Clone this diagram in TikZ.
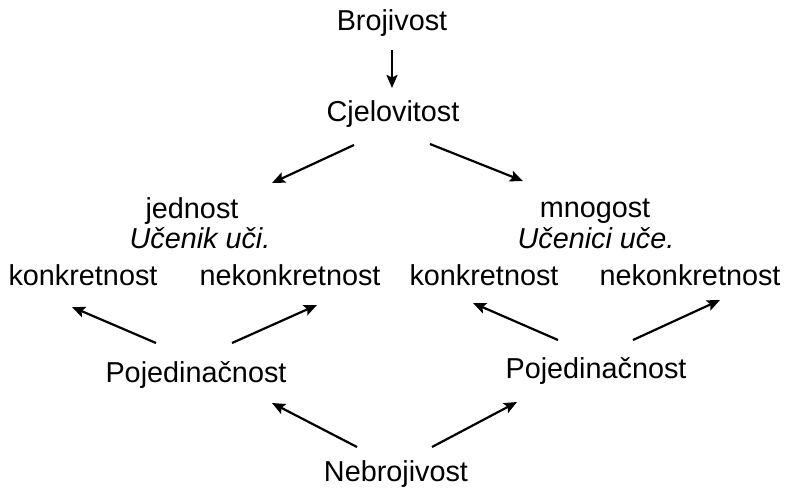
\documentclass[tikz,border=0pt]{standalone}
\usepackage{fontspec}
\setmainfont{Liberation Sans}
\usetikzlibrary{arrows.meta}
\begin{document}
\begin{tikzpicture}[x=1pt,y=-1pt,
  txt/.style={anchor=base, inner sep=0pt, font=\fontsize{28.8}{32}\selectfont},
  arr/.style={line width=2.2pt, -{Stealth[length=13pt,width=11pt,inset=2.5pt]}}]
\useasboundingbox (0,0) rectangle (787,488);
\node[txt] (bro) at (392,30) {Brojivost};
\node[txt] (cje) at (393,121) {Cjelovitost};
\node[txt] (jed) at (192,218) {jednost};
\node[txt] (uc1) at (200,248) {\itshape Učenik uči.};
\node[txt] (kL) at (83,285) {konkretnost};
\node[txt] (nkL) at (290,285) {nekonkretnost};
\node[txt] (mno) at (595,217) {mnogost};
\node[txt] (uc2) at (596,248) {\itshape Učenici uče.};
\node[txt] (kR) at (484,285) {konkretnost};
\node[txt] (nkR) at (690,285) {nekonkretnost};
\node[txt] (pL) at (196,382) {Pojedinačnost};
\node[txt] (pR) at (596,378) {Pojedinačnost};
\node[txt] (neb) at (396,481) {Nebrojivost};
% arrow end points
\coordinate (a1s) at (392,50);  \coordinate (a1e) at (392,88);
\coordinate (a2s) at (354,145); \coordinate (a2e) at (272,183);
\coordinate (a3s) at (430,144); \coordinate (a3e) at (523,181);
\coordinate (a4s) at (156,343); \coordinate (a4e) at (72,307);
\coordinate (a5s) at (232,343); \coordinate (a5e) at (317,305);
\coordinate (a6s) at (558,340); \coordinate (a6e) at (473,303);
\coordinate (a7s) at (633,340); \coordinate (a7e) at (720,300);
\coordinate (a8s) at (357,447); \coordinate (a8e) at (272,403);
\coordinate (a9s) at (432,447); \coordinate (a9e) at (517,402);
\draw[arr] (a1s) -- (a1e);
\draw[arr] (a2s) -- (a2e);
\draw[arr] (a3s) -- (a3e);
\draw[arr] (a4s) -- (a4e);
\draw[arr] (a5s) -- (a5e);
\draw[arr] (a6s) -- (a6e);
\draw[arr] (a7s) -- (a7e);
\draw[arr] (a8s) -- (a8e);
\draw[arr] (a9s) -- (a9e);
\end{tikzpicture}
\end{document}
